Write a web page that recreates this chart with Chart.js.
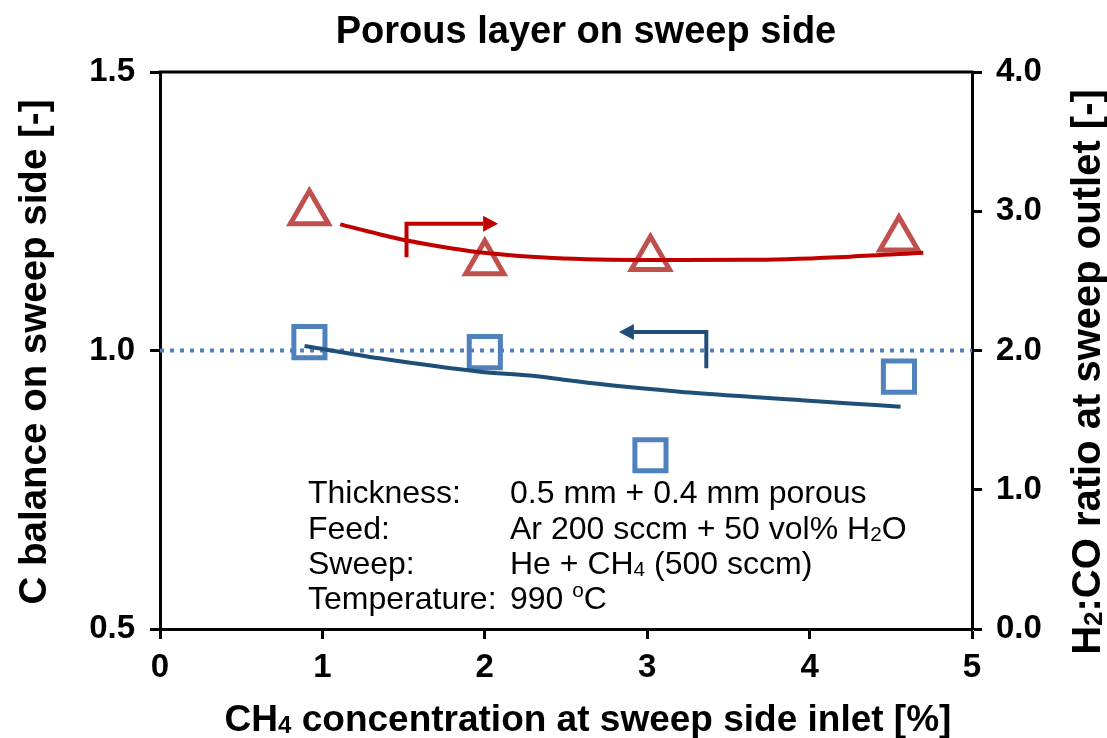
<!DOCTYPE html>
<html>
<head>
<meta charset="utf-8">
<script src="https://cdn.jsdelivr.net/npm/chart.js@4.4.1/dist/chart.umd.min.js"></script>
<style>
  html, body { margin: 0; padding: 0; background: #ffffff; }
  #wrap { width: 1107px; height: 738px; }
</style>
</head>
<body>
<div id="wrap"><canvas id="c" width="1107" height="738"></canvas></div>
<script>
// ---------- data ----------
const xMeasured      = [0.92, 2.00, 3.02, 4.55];
const cBalance       = [1.015, 0.997, 0.812, 0.953];
const h2coRatio      = [2.99, 2.63, 2.66, 2.80];

const cModelX = [0.89, 1.35, 1.97, 2.28, 2.50, 2.79, 3.20, 3.63, 3.94, 4.25, 4.56];
const cModelY = [1.008, 0.986, 0.962, 0.955, 0.947, 0.937, 0.926, 0.917, 0.911, 0.905, 0.899];

const hModelX = [1.11, 1.35, 1.52, 1.79, 2.01, 2.42, 3.02, 3.63, 4.25, 4.70];
const hModelY = [2.906, 2.835, 2.790, 2.735, 2.700, 2.664, 2.650, 2.651, 2.674, 2.702];

const refLineX = [0, 5];
const refLineY = [1.0, 1.0];

const xTicks     = [0, 1, 2, 3, 4, 5];
const leftTicks  = [0.5, 1.0, 1.5];
const rightTicks = [0.0, 1.0, 2.0, 3.0, 4.0];

const titleText = 'Porous layer on sweep side';
const xTitleParts = [{t: 'CH'}, {t: '4', sub: true}, {t: ' concentration at sweep side inlet [%]'}];
const yTitleText = 'C balance on sweep side [-]';
const y2TitleParts = [{t: 'H'}, {t: '2', sub: true}, {t: ':CO ratio at sweep outlet [-]'}];

const noteLabels = ['Thickness:', 'Feed:', 'Sweep:', 'Temperature:'];
const noteValues = [
  [{t: '0.5 mm + 0.4 mm porous'}],
  [{t: 'Ar 200 sccm + 50 vol% H'}, {t: '2', sub: true}, {t: 'O'}],
  [{t: 'He + CH'}, {t: '4', sub: true}, {t: ' (500 sccm)'}],
  [{t: '990 '}, {t: 'o', sup: true}, {t: 'C'}]
];

// arrow annotations, in data units
const redArrow  = {axis: 'y2', x: 1.518, yFrom: 2.669, yTo: 2.911, xTip: 2.082};
const blueArrow = {axis: 'y',  x: 3.364, yFrom: 0.968, yTo: 1.033, xTip: 2.826};

// ---------- helpers ----------
const FAM = "'Liberation Sans', Arial, sans-serif";
function toXY(xs, ys) { return xs.map((x, i) => ({x: x, y: ys[i]})); }

function richWidth(ctx, parts, size, weight) {
  let w = 0;
  parts.forEach(p => {
    const s = (p.sub || p.sup) ? size * 0.65 : size;
    ctx.font = weight + ' ' + s + 'px ' + FAM;
    w += ctx.measureText(p.t).width;
  });
  return w;
}
function drawRich(ctx, parts, x, y, size, weight, align) {
  const w = richWidth(ctx, parts, size, weight);
  let cx = align === 'center' ? x - w / 2 : (align === 'right' ? x - w : x);
  ctx.textAlign = 'left';
  ctx.textBaseline = 'alphabetic';
  parts.forEach(p => {
    const s = (p.sub || p.sup) ? size * 0.65 : size;
    const dy = p.sub ? size * 0.06 : (p.sup ? -size * 0.38 : 0);
    ctx.font = weight + ' ' + s + 'px ' + FAM;
    ctx.fillText(p.t, cx, y + dy);
    cx += ctx.measureText(p.t).width;
  });
}

function drawArrow(ctx, chart, a, color) {
  const xs = chart.scales.x, ys = chart.scales[a.axis];
  const px = xs.getPixelForValue(a.x);
  const pyFrom = ys.getPixelForValue(a.yFrom);
  const pyTo = ys.getPixelForValue(a.yTo);
  const pTip = xs.getPixelForValue(a.xTip);
  const dir = pTip > px ? 1 : -1;
  const headLen = 15, headHalf = 8;
  ctx.save();
  ctx.strokeStyle = color;
  ctx.fillStyle = color;
  ctx.lineWidth = 4;
  ctx.lineJoin = 'miter';
  ctx.lineCap = 'butt';
  ctx.beginPath();
  ctx.moveTo(px, pyFrom);
  ctx.lineTo(px, pyTo);
  ctx.lineTo(pTip - dir * headLen, pyTo);
  ctx.stroke();
  ctx.beginPath();
  ctx.moveTo(pTip, pyTo);
  ctx.lineTo(pTip - dir * headLen, pyTo - headHalf);
  ctx.lineTo(pTip - dir * headLen, pyTo + headHalf);
  ctx.closePath();
  ctx.fill();
  ctx.restore();
}

const decorPlugin = {
  id: 'decor',
  afterDraw(chart) {
    const ctx = chart.ctx;
    const ca = chart.chartArea;
    ctx.save();
    // top frame line
    ctx.strokeStyle = '#000';
    ctx.lineWidth = 3;
    ctx.beginPath();
    ctx.moveTo(ca.left - 1.5, ca.top);
    ctx.lineTo(ca.right + 1.5, ca.top);
    ctx.stroke();

    ctx.fillStyle = '#000';
    // title
    ctx.font = 'bold 38px ' + FAM;
    ctx.textAlign = 'center';
    ctx.textBaseline = 'alphabetic';
    ctx.fillText(titleText, 586, 43);

    // x axis title
    drawRich(ctx, xTitleParts, (ca.left + ca.right) / 2 + 22, 731, 37, 'bold', 'center');

    // left axis title
    ctx.save();
    ctx.translate(46, 352);
    ctx.rotate(-Math.PI / 2);
    ctx.font = 'bold 38.5px ' + FAM;
    ctx.textAlign = 'center';
    ctx.textBaseline = 'alphabetic';
    ctx.fillText(yTitleText, 0, 0);
    ctx.restore();

    // right axis title
    ctx.save();
    ctx.translate(1100, 372);
    ctx.rotate(-Math.PI / 2);
    drawRich(ctx, y2TitleParts, 0, 0, 40, 'bold', 'center');
    ctx.restore();

    // note block
    const baseY = [503, 539, 574, 609];
    noteLabels.forEach((lab, i) => {
      ctx.font = '32px ' + FAM;
      ctx.textAlign = 'left';
      ctx.fillText(lab, 308, baseY[i]);
      drawRich(ctx, noteValues[i], 510, baseY[i], 32, 'normal', 'left');
    });

    // arrows
    drawArrow(ctx, chart, redArrow, '#c00000');
    drawArrow(ctx, chart, blueArrow, '#1f4e79');
    ctx.restore();
  }
};

const axisCommon = {
  border: {display: true, color: '#000', width: 3},
  grid: {drawOnChartArea: false, drawTicks: true, tickLength: 10, tickColor: '#000', tickWidth: 3, color: '#000'},
};
const tickFont = {family: FAM, size: 33, weight: 'bold'};

new Chart(document.getElementById('c'), {
  type: 'scatter',
  data: {
    datasets: [
      {
        label: 'C balance model',
        data: toXY(cModelX, cModelY),
        yAxisID: 'y',
        showLine: true,
        borderColor: '#1f4e79',
        borderWidth: 4,
        pointRadius: 0,
        cubicInterpolationMode: 'monotone',
        order: 1
      },
      {
        label: 'H2:CO model',
        data: toXY(hModelX, hModelY),
        yAxisID: 'y2',
        showLine: true,
        borderColor: '#c00000',
        borderWidth: 4,
        pointRadius: 0,
        cubicInterpolationMode: 'monotone',
        order: 1
      },
      {
        label: 'C balance = 1',
        data: toXY(refLineX, refLineY),
        yAxisID: 'y',
        showLine: true,
        borderColor: '#4f81bd',
        borderWidth: 4,
        borderDash: [4, 6],
        pointRadius: 0,
        order: 3
      },
      {
        label: 'C balance',
        data: toXY(xMeasured, cBalance),
        yAxisID: 'y',
        showLine: false,
        pointStyle: 'rect',
        pointRadius: 22,
        pointBorderWidth: 5,
        pointBorderColor: '#4f81bd',
        pointBackgroundColor: 'rgba(0,0,0,0)',
        borderColor: '#4f81bd',
        order: 2
      },
      {
        label: 'H2:CO ratio',
        data: toXY(xMeasured, h2coRatio),
        yAxisID: 'y2',
        showLine: false,
        pointStyle: 'triangle',
        pointRadius: 22,
        pointBorderWidth: 5,
        pointBorderColor: '#c0504d',
        pointBackgroundColor: 'rgba(0,0,0,0)',
        borderColor: '#c0504d',
        order: 2
      }
    ]
  },
  options: {
    responsive: false,
    animation: false,
    devicePixelRatio: 1,
    layout: {padding: {top: 72, left: 0, right: 0, bottom: 0}},
    plugins: {legend: {display: false}, tooltip: {enabled: false}, title: {display: false}},
    scales: {
      x: Object.assign({}, axisCommon, {
        type: 'linear', position: 'bottom', min: 0, max: 5,
        afterBuildTicks: s => { s.ticks = xTicks.map(v => ({value: v})); },
        ticks: {color: '#000', font: tickFont, padding: 9, callback: v => String(v)},
        afterFit: s => { s.height = 109; }
      }),
      y: Object.assign({}, axisCommon, {
        type: 'linear', position: 'left', min: 0.5, max: 1.5,
        afterBuildTicks: s => { s.ticks = leftTicks.map(v => ({value: v})); },
        ticks: {color: '#000', font: tickFont, padding: 15, callback: v => Number(v).toFixed(1)},
        afterFit: s => { s.width = 160; }
      }),
      y2: Object.assign({}, axisCommon, {
        type: 'linear', position: 'right', min: 0, max: 4,
        afterBuildTicks: s => { s.ticks = rightTicks.map(v => ({value: v})); },
        ticks: {color: '#000', font: tickFont, padding: 14, callback: v => Number(v).toFixed(1)},
        afterFit: s => { s.width = 135; }
      })
    }
  },
  plugins: [decorPlugin]
});
</script>
</body>
</html>
